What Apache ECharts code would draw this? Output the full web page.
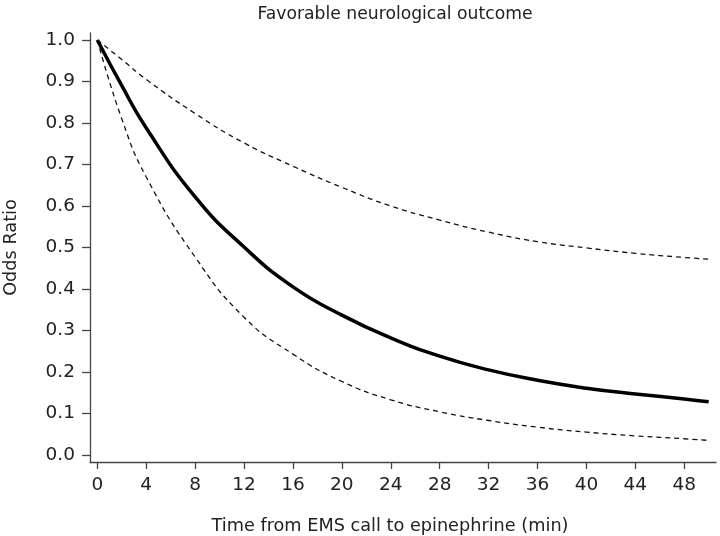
<!DOCTYPE html>
<html>
<head>
<meta charset="utf-8">
<script src="https://cdn.jsdelivr.net/npm/echarts@6/dist/echarts.min.js"></script>
<style>html,body{margin:0;padding:0;background:#fff}#c{width:720px;height:536px}</style>
</head>
<body>
<div id="c"></div>
<script>
const titleText = 'Favorable neurological outcome';
const xName = 'Time from EMS call to epinephrine (min)';
const yName = 'Odds Ratio';
const times = [0, 2, 4, 8, 12, 16, 20, 24, 28, 32, 36, 40, 44, 48, 50];
const oddsRatio = [1.0, 0.89, 0.788, 0.622, 0.501, 0.405, 0.337, 0.282, 0.238, 0.205, 0.180, 0.161, 0.147, 0.135, 0.128];
const upperCI = [1.0, 0.953, 0.905, 0.823, 0.752, 0.696, 0.645, 0.600, 0.566, 0.537, 0.514, 0.499, 0.486, 0.476, 0.472];
const lowerCI = [1.0, 0.81, 0.67, 0.477, 0.332, 0.243, 0.177, 0.133, 0.104, 0.083, 0.067, 0.055, 0.046, 0.039, 0.035];
const xTicks = [0, 4, 8, 12, 16, 20, 24, 28, 32, 36, 40, 44, 48];
const yTicks = [0, 0.1, 0.2, 0.3, 0.4, 0.5, 0.6, 0.7, 0.8, 0.9, 1.0];

const pairs = ys => times.map((t, i) => [t, ys[i]]);
const font = 'DejaVu Sans';
const axisColor = '#444';

const chart = echarts.init(document.getElementById('c'), null, {renderer: 'canvas'});
chart.setOption({
  animation: false,
  backgroundColor: '#fff',
  title: {
    text: titleText, left: 390, top: 1, textAlign: 'center',
    textStyle: {fontFamily: font, fontSize: 17.2, fontWeight: 'normal', color: '#222'}
  },
  grid: {left: 90, top: 33, width: 626, height: 429, containLabel: false, outerBoundsMode: 'none'},
  xAxis: {
    type: 'value', min: -0.6, max: 50.6,
    name: xName, nameLocation: 'middle', nameGap: 55,
    nameTextStyle: {fontFamily: font, fontSize: 17.7, color: '#222', padding: [0, 26, 0, 0]},
    axisLine: {onZero: false, lineStyle: {color: axisColor, width: 1.3}},
    axisTick: {show: true, inside: false, length: 7, customValues: xTicks, lineStyle: {color: axisColor, width: 1.3}},
    axisLabel: {customValues: xTicks, margin: 14, fontFamily: font, fontSize: 18.5, color: '#222'},
    splitLine: {show: false}
  },
  yAxis: {
    type: 'value', min: -0.017, max: 1.017,
    name: yName, nameLocation: 'middle', nameGap: 70, nameRotate: 90,
    nameTextStyle: {fontFamily: font, fontSize: 17.7, color: '#222'},
    axisLine: {show: true, onZero: false, lineStyle: {color: axisColor, width: 1.3}},
    axisTick: {show: true, inside: false, length: 8, customValues: yTicks, lineStyle: {color: axisColor, width: 1.3}},
    axisLabel: {customValues: yTicks, margin: 15, fontFamily: font, fontSize: 18.5, color: '#222',
      formatter: v => v.toFixed(1)},
    splitLine: {show: false}
  },
  series: [
    {type: 'line', data: pairs(upperCI), smooth: 0.5, showSymbol: false,
     lineStyle: {color: '#111', width: 1.3, type: [5, 4]}},
    {type: 'line', data: pairs(lowerCI), smooth: 0.5, showSymbol: false,
     lineStyle: {color: '#111', width: 1.3, type: [5, 4]}},
    {type: 'line', data: pairs(oddsRatio), smooth: 0.5, showSymbol: false,
     lineStyle: {color: '#000', width: 3.5}}
  ]
});
</script>
</body>
</html>
